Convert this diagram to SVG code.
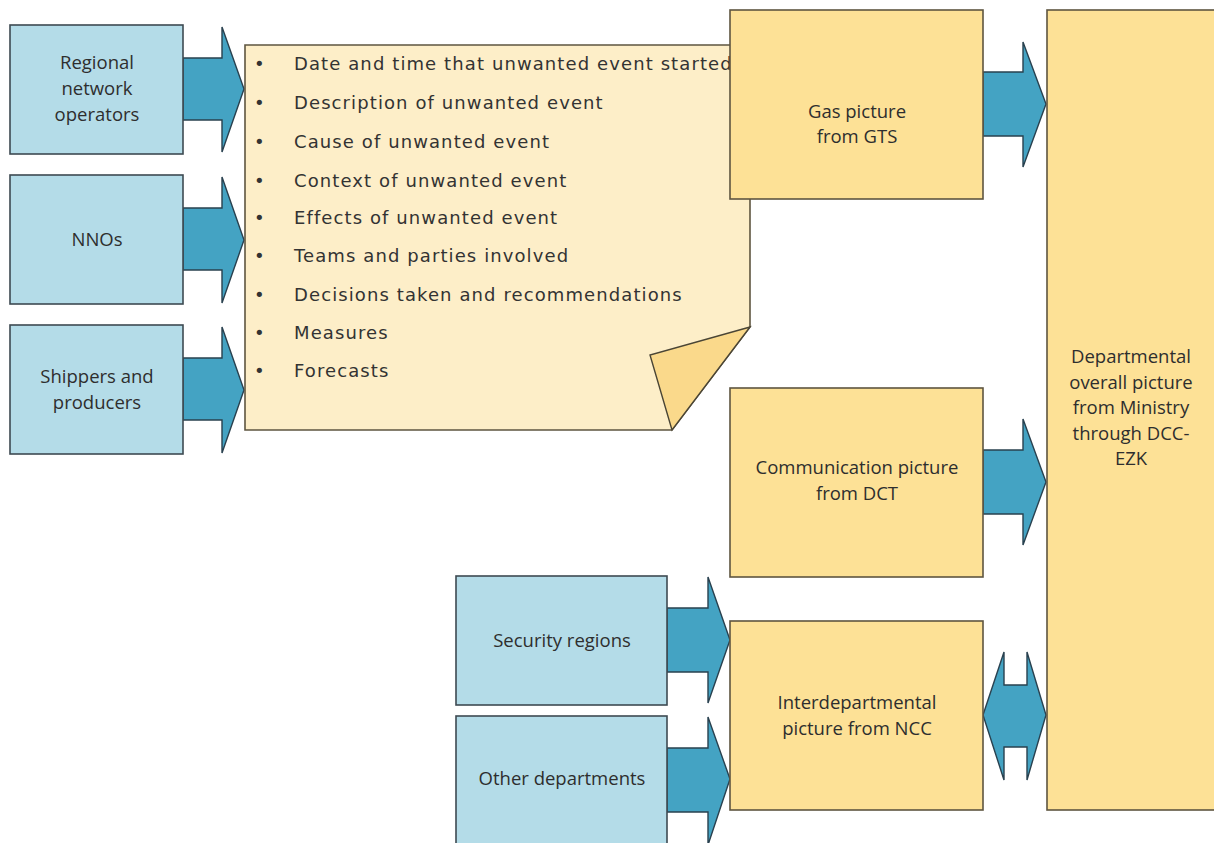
<svg xmlns="http://www.w3.org/2000/svg" width="1214" height="843" viewBox="0 0 1214 843">
<style>
.blue{fill:#B4DCE8;stroke:#3E4A52;stroke-width:1.6}
.yel{fill:#FDE196;stroke:#5E5540;stroke-width:1.6}
.arr{fill:#44A3C3;stroke:#29414F;stroke-width:1.4;stroke-linejoin:miter}
.lbl{font-family:"Open Sans","Liberation Sans",Arial,sans-serif;font-size:18.5px;fill:#2E2E2E;text-anchor:middle}
.note{font-family:"DejaVu Sans",Verdana,sans-serif;font-size:18px;letter-spacing:1.1px;fill:#333333}
</style>
<rect width="1214" height="843" fill="#ffffff"/>
<g id="connectors">
<polygon class="arr" points="183,58 222,58 222,27 244,89 222,152 222,120 183,120"/>
<polygon class="arr" points="183,208 222,208 222,177 244,240 222,303 222,270 183,270"/>
<polygon class="arr" points="183,358 222,358 222,327 244,390 222,453 222,420 183,420"/>
<polygon class="arr" points="983,72 1023,72 1023,42 1046,104 1023,167 1023,136 983,136"/>
<polygon class="arr" points="983,450 1023,450 1023,419 1046,482 1023,545 1023,514 983,514"/>
<polygon class="arr" points="667,608 708,608 708,577 730,640 708,703 708,672 667,672"/>
<polygon class="arr" points="667,748 708,748 708,717 730,779 708,845 708,812 667,812"/>
<polygon class="arr" points="983,715 1004,652 1004,685 1027,685 1027,652 1046,715 1027,780 1027,747 1004,747 1004,780"/>
</g>
<g id="regional">
<rect class="blue" x="10" y="25" width="173" height="129"/>
<text class="lbl"><tspan x="97" y="69">Regional</tspan><tspan x="97" y="95">network</tspan><tspan x="97" y="121">operators</tspan></text>
</g>
<g id="nnos">
<rect class="blue" x="10" y="175" width="173" height="129"/>
<text class="lbl" x="97" y="246">NNOs</text>
</g>
<g id="shippers">
<rect class="blue" x="10" y="325" width="173" height="129"/>
<text class="lbl"><tspan x="97" y="383">Shippers and</tspan><tspan x="97" y="409">producers</tspan></text>
</g>
<g id="note">
<path d="M245,45 H750 V327 L672,430 H245 Z" fill="#FDEEC8" stroke="#5E5540" stroke-width="1.6"/>
<polygon points="750,327 650,355 672,430" fill="#FAD98B" stroke="#4A4535" stroke-width="1.4" stroke-linejoin="miter"/>
<g class="note">
<text x="254" y="70">•</text><text x="294" y="70">Date and time that unwanted event started</text>
<text x="254" y="109">•</text><text x="294" y="109">Description of unwanted event</text>
<text x="254" y="148">•</text><text x="294" y="148">Cause of unwanted event</text>
<text x="254" y="187">•</text><text x="294" y="187">Context of unwanted event</text>
<text x="254" y="224">•</text><text x="294" y="224">Effects of unwanted event</text>
<text x="254" y="262">•</text><text x="294" y="262">Teams and parties involved</text>
<text x="254" y="301">•</text><text x="294" y="301">Decisions taken and recommendations</text>
<text x="254" y="339">•</text><text x="294" y="339">Measures</text>
<text x="254" y="377">•</text><text x="294" y="377">Forecasts</text>
</g>
</g>
<g id="gas">
<rect class="yel" x="730" y="10" width="253" height="189"/>
<text class="lbl"><tspan x="857" y="118">Gas picture</tspan><tspan x="857" y="143">from GTS</tspan></text>
</g>
<g id="communication">
<rect class="yel" x="730" y="388" width="253" height="189"/>
<text class="lbl"><tspan x="857" y="474">Communication picture</tspan><tspan x="857" y="500">from DCT</tspan></text>
</g>
<g id="interdepartmental">
<rect class="yel" x="730" y="621" width="253" height="189"/>
<text class="lbl"><tspan x="857" y="709">Interdepartmental</tspan><tspan x="857" y="735">picture from NCC</tspan></text>
</g>
<g id="departmental">
<rect class="yel" x="1047" y="10" width="175" height="800"/>
<text class="lbl"><tspan x="1131" y="363">Departmental</tspan><tspan x="1131" y="389">overall picture</tspan><tspan x="1131" y="414">from Ministry</tspan><tspan x="1131" y="440">through DCC-</tspan><tspan x="1131" y="465">EZK</tspan></text>
</g>
<g id="security">
<rect class="blue" x="456" y="576" width="211" height="129"/>
<text class="lbl" x="562" y="647">Security regions</text>
</g>
<g id="others">
<rect class="blue" x="456" y="716" width="211" height="135"/>
<text class="lbl" x="562" y="785">Other departments</text>
</g>
</svg>
